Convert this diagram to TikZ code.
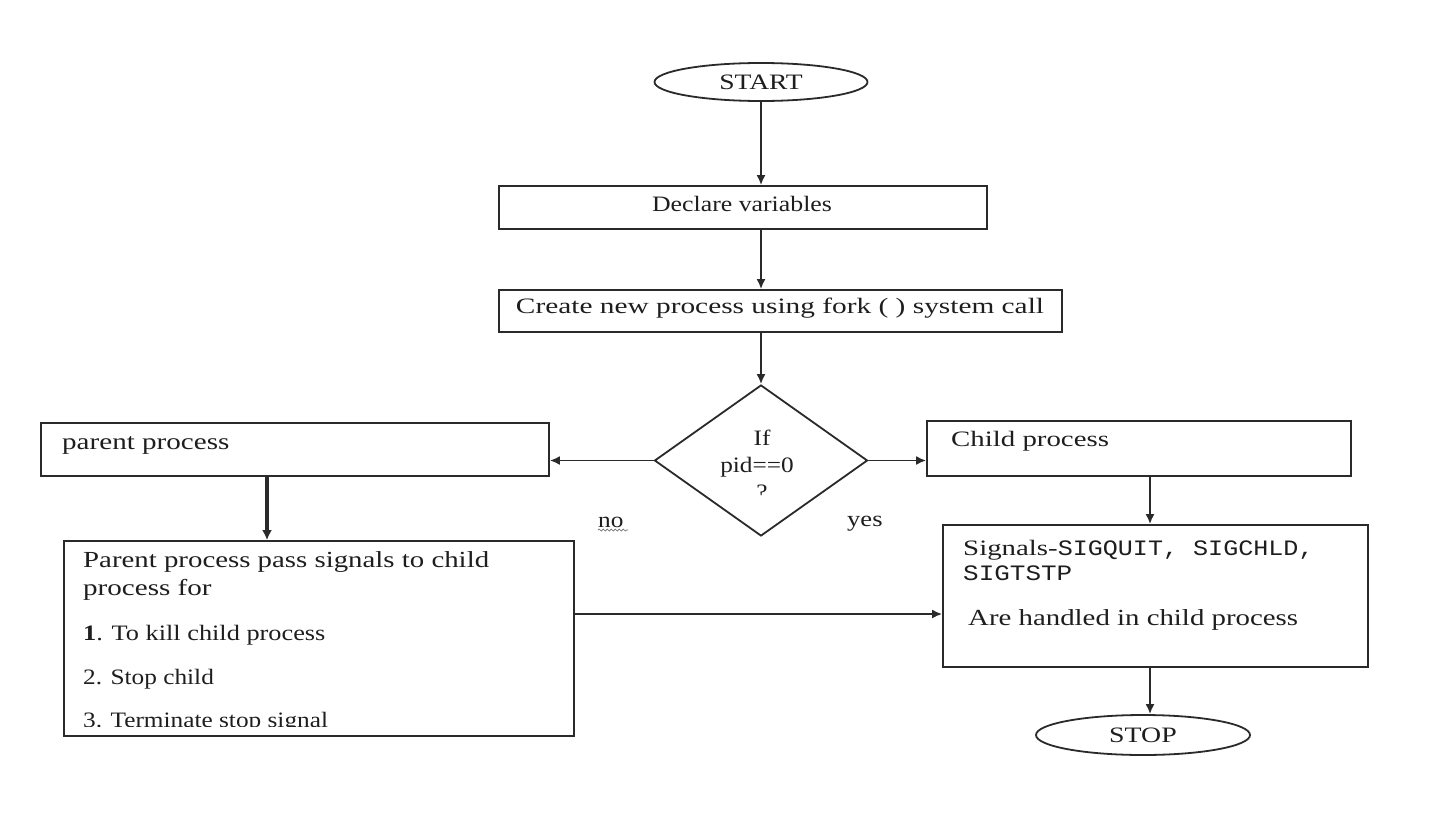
\documentclass[tikz,border=0pt]{standalone}
\usepackage{graphicx}
\usepackage{fontspec}
\setmainfont{Liberation Serif}[FakeStretch=1.15]
\newfontfamily\monof{Liberation Mono}
\usetikzlibrary{shapes.geometric,arrows.meta,decorations.pathmorphing}
\definecolor{ink}{HTML}{2A2A2A}
\definecolor{txtc}{HTML}{1E1E1E}
\newcommand{\hsq}[2]{\scalebox{#1}[1]{#2}}
\tikzset{
  boxnode/.style={draw=ink, line width=1.8pt, rectangle, inner sep=0pt},
  ovalnode/.style={draw=ink, line width=1.8pt, ellipse, inner sep=0pt},
  dianode/.style={draw=ink, line width=1.8pt, diamond, inner sep=0pt},
  txt/.style={inner sep=0pt, text=txtc, font=\fontsize{22}{26}\selectfont},
  conn/.style={draw=ink, line width=1.8pt, -{Latex[length=10pt,width=9pt]}},
}
\begin{document}
\begin{tikzpicture}[x=1pt,y=-1pt]
\useasboundingbox[fill=white] (0,0) rectangle (1431,835);
% nodes
\node[ovalnode, minimum width=213pt, minimum height=38pt] (start) at (761,82) {};
\node[txt] (tstart) at (761,82) {\hsq{1.09}{START}};
\node[boxnode, minimum width=488pt, minimum height=43pt] (decl) at (743,207.5) {};
\node[txt] (tdecl) at (742,204) {\hsq{1.02}{Declare variables}};
\node[boxnode, minimum width=563pt, minimum height=42pt] (create) at (780.5,311) {};
\node[txt] (tcreate) at (780,308) {\hsq{1.16}{Create new process using fork ( ) system call}};
\node[dianode, minimum width=213pt, minimum height=151pt] (dia) at (761,460.5) {};
\node[txt] (tif) at (762,438) {If};
\node[txt] (tpid) at (757,467) {pid==0};
\begin{scope}
\clip (700,470) rectangle (820,495);
\node[txt] (tq) at (762,492) {?};
\end{scope}
\node[boxnode, minimum width=508pt, minimum height=53pt] (parent) at (295,449.5) {};
\node[txt, anchor=base west, font=\fontsize{23}{26}\selectfont] (tparent) at (62,449) {\hsq{1.1}{parent process}};
\node[boxnode, minimum width=424pt, minimum height=55pt] (child) at (1139,448.5) {};
\node[txt, anchor=base west] (tchild) at (951,446) {\hsq{1.14}{Child process}};
\node[txt, anchor=base west] (tno) at (598,527) {no};
\node[txt, anchor=base west] (tyes) at (847,526) {\hsq{1.05}{yes}};
\node[boxnode, minimum width=510pt, minimum height=195pt] (pbox) at (319,638.5) {};
\node[txt, anchor=base west, font=\fontsize{23}{26}\selectfont] (p1) at (83,567) {\hsq{1.09}{Parent process pass signals to child}};
\node[txt, anchor=base west, font=\fontsize{23}{26}\selectfont] (p2) at (83,595) {\hsq{1.1}{process for}};
\node[txt, anchor=base west] (p3) at (83,640) {\hsq{1.04}{\textbf{1}. To kill child process}};
\node[txt, anchor=base west] (p4) at (83,684) {2. Stop child};
\begin{scope}
\clip (70,700) rectangle (560,726);
\node[txt, anchor=base west] (p5) at (83,727) {3. Terminate stop signal};
\end{scope}
\node[boxnode, minimum width=425pt, minimum height=142pt] (sig) at (1155.5,596) {};
\node[txt, anchor=base west] (s1) at (963,555) {\hsq{1.14}{Signals-{\monof SIGQUIT, SIGCHLD,}}};
\node[txt, anchor=base west] (s2) at (963,580) {\hsq{1.18}{\monof SIGTSTP}};
\node[txt, anchor=base west, font=\fontsize{23}{26}\selectfont] (s3) at (968,625) {\hsq{1.09}{Are handled in child process}};
\node[ovalnode, minimum width=214pt, minimum height=40pt] (stop) at (1143,735) {};
\node[txt] (tstop) at (1143,735) {\hsq{1.1}{STOP}};
% squiggle under "no"
\coordinate (sqa) at (598,530);
\coordinate (sqb) at (628,530);
\draw[ink!70, line width=0.7pt, decorate, decoration={snake, amplitude=1pt, segment length=4pt}] (sqa) -- (sqb);
% connectors
\draw[conn] (start.south) -- (start.south |- decl.north);
\draw[conn] (start.south |- decl.south) -- (start.south |- create.north);
\draw[conn] (start.south |- create.south) -- (dia.north);
\draw[conn] (dia.west) -- (dia.west -| parent.east);
\draw[conn] (dia.east) -- (dia.east -| child.west);
\coordinate (pdown) at (267,476);
\draw[draw=ink, line width=3.5pt, -{Latex[length=10pt,width=10pt]}] (pdown |- parent.south) -- (pdown |- pbox.north);
\coordinate (cdown) at (1150,476);
\draw[conn] (cdown |- child.south) -- (cdown |- sig.north);
\coordinate (across) at (574,614);
\draw[conn] (across -| pbox.east) -- (across -| sig.west);
\draw[conn] (cdown |- sig.south) -- (cdown |- stop.north);
\end{tikzpicture}
\end{document}
